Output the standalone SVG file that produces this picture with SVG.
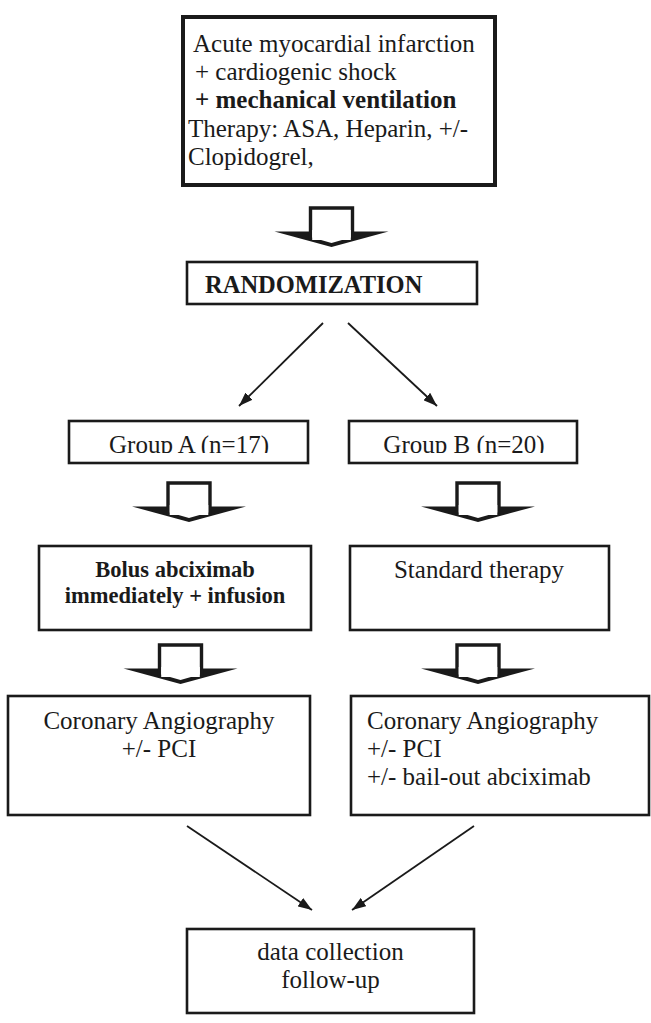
<svg xmlns="http://www.w3.org/2000/svg" xmlns:xlink="http://www.w3.org/1999/xlink" width="651" height="1023" viewBox="0 0 651 1023">
<style>
.box{fill:#fff;stroke:#1a1a1a;stroke-width:2.6}
.thick{stroke-width:4}
.t{font-family:"Liberation Serif","Times New Roman",serif;font-size:25px;fill:#1a1a1a}
.b{font-weight:bold}
.c{text-anchor:middle}
.conn{stroke:#1a1a1a;stroke-width:1.8;fill:none}
</style>
<defs>
<marker id="ah" viewBox="0 0 14 10" refX="14" refY="5" markerWidth="14" markerHeight="10" markerUnits="userSpaceOnUse" orient="auto">
<path d="M0,0 L14,5 L0,10 z" fill="#1a1a1a"/>
</marker>
<g id="harrow">
<polygon points="-57,23.5 57,23.5 0,39" fill="#1a1a1a"/>
<path d="M-21,32 V0 H21 V32" fill="#fff" stroke="#1a1a1a" stroke-width="3.4" stroke-linejoin="miter"/>
<polygon points="-19.3,22 19.3,22 19.3,29.5 0,35 -19.3,29.5" fill="#fff"/>
</g>
<clipPath id="clipGA"><rect x="69" y="421" width="240" height="32"/></clipPath>
<clipPath id="clipGB"><rect x="349" y="421" width="229" height="32"/></clipPath>
</defs>
<rect width="651" height="1023" fill="#fff"/>

<g id="connectors">
<use xlink:href="#harrow" href="#harrow" transform="translate(331.5,208)"/>
<line class="conn" x1="323" y1="323" x2="239" y2="406" marker-end="url(#ah)"/>
<line class="conn" x1="348" y1="323" x2="437" y2="406" marker-end="url(#ah)"/>
<use xlink:href="#harrow" href="#harrow" transform="translate(189,483)"/>
<use xlink:href="#harrow" href="#harrow" transform="translate(478,483)"/>
<use xlink:href="#harrow" href="#harrow" transform="translate(180.5,645)"/>
<use xlink:href="#harrow" href="#harrow" transform="translate(478,645)"/>
<line class="conn" x1="187" y1="826" x2="312" y2="910" marker-end="url(#ah)"/>
<line class="conn" x1="474" y1="826" x2="352" y2="910" marker-end="url(#ah)"/>
</g>

<g id="start">
<rect class="box thick" x="183" y="17" width="312" height="168"/>
<text class="t" x="193" y="52">Acute myocardial infarction</text>
<text class="t" x="195" y="80">+ cardiogenic shock</text>
<text class="t b" x="195" y="108">+ mechanical ventilation</text>
<text class="t" x="188" y="137">Therapy: ASA, Heparin, +/-</text>
<text class="t" x="188" y="165">Clopidogrel,</text>
</g>

<g id="randomization">
<rect class="box" x="187" y="262" width="290" height="42"/>
<text class="t b" x="205" y="293" style="font-size:24.5px">RANDOMIZATION</text>
</g>

<g id="groupA">
<rect class="box" x="69" y="421" width="239" height="42"/>
<text class="t c" x="189" y="453" clip-path="url(#clipGA)">Group A (n=17)</text>
</g>

<g id="groupB">
<rect class="box" x="349" y="421" width="228" height="42"/>
<text class="t c" x="464" y="453" clip-path="url(#clipGB)">Group B (n=20)</text>
</g>

<g id="bolus">
<rect class="box" x="39" y="546" width="272" height="84"/>
<text class="t b c" x="175" y="577" style="font-size:22.5px">Bolus abciximab</text>
<text class="t b c" x="175" y="603" style="font-size:22.5px">immediately + infusion</text>
</g>

<g id="standard">
<rect class="box" x="350" y="546" width="259" height="84"/>
<text class="t c" x="479" y="578">Standard therapy</text>
</g>

<g id="coroA">
<rect class="box" x="8" y="696" width="302" height="119"/>
<text class="t c" x="159" y="729">Coronary Angiography</text>
<text class="t c" x="159" y="757">+/- PCI</text>
</g>

<g id="coroB">
<rect class="box" x="351" y="696" width="298" height="119"/>
<text class="t" x="367" y="729">Coronary Angiography</text>
<text class="t" x="367" y="757">+/- PCI</text>
<text class="t" x="367" y="785">+/- bail-out abciximab</text>
</g>

<g id="followup">
<rect class="box" x="187" y="929" width="287" height="84"/>
<text class="t c" x="330.5" y="960">data collection</text>
<text class="t c" x="330.5" y="988">follow-up</text>
</g>
</svg>
